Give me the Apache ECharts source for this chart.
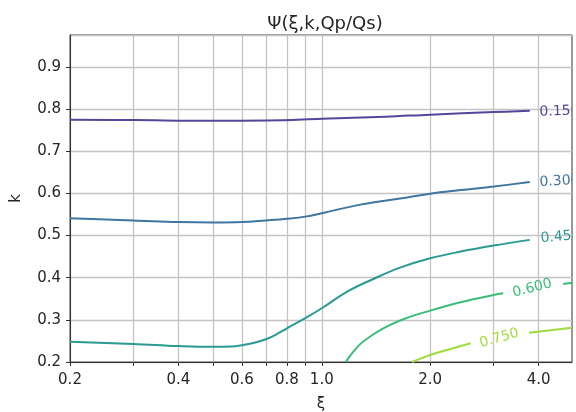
<!DOCTYPE html>
<html>
<head>
<meta charset="utf-8">
<script src="https://cdn.jsdelivr.net/npm/echarts@6/dist/echarts.min.js"></script>
<style>
html,body{margin:0;padding:0;background:#fff;}
#chart{width:576px;height:412px;}
</style>
</head>
<body>
<div id="chart"></div>
<script>
// ---- data ----
const titleText = 'Ψ(ξ,k,Qp/Qs)';
const xName = 'ξ';
const yName = 'k';
const xLabelTicks = [0.2, 0.4, 0.6, 0.8, 1.0, 2.0, 4.0];
const xGridTicks = [0.2, 0.3, 0.4, 0.5, 0.6, 0.7, 0.8, 0.9, 1.0, 2.0, 3.0, 4.0];

const xi15 = [0.2, 0.3, 0.5, 0.7, 1.0, 1.5, 2.0, 3.0, 3.78];
const k15  = [0.775, 0.774, 0.7725, 0.773, 0.777, 0.782, 0.787, 0.793, 0.796];

const xi30 = [0.2, 0.3, 0.4, 0.5, 0.6, 0.7, 0.8, 0.9, 1.0, 1.28, 1.65, 2.0, 2.43, 3.0, 3.78];
const k30  = [0.541, 0.536, 0.532, 0.531, 0.532, 0.536, 0.540, 0.545, 0.553, 0.5735, 0.588, 0.5995, 0.608, 0.6164, 0.627];

const xi45 = [0.2, 0.3, 0.4, 0.5, 0.56, 0.6, 0.65, 0.7, 0.75, 0.8, 0.9, 1.0, 1.17, 1.39, 1.65, 2.0, 2.43, 3.0, 3.78];
const k45  = [0.248, 0.243, 0.238, 0.236, 0.2365, 0.2395, 0.2455, 0.254, 0.266, 0.280, 0.304, 0.3275, 0.366, 0.397, 0.424, 0.446, 0.462, 0.4763, 0.4898];

const xi60a = [1.166, 1.19, 1.224, 1.28, 1.36, 1.5, 1.69, 2.0, 2.43, 3.0, 3.19];
const k60a  = [0.2, 0.211, 0.2245, 0.243, 0.260, 0.282, 0.302, 0.322, 0.342, 0.359, 0.363];
const xi60b = [4.68, 4.95];
const k60b  = [0.385, 0.388];

const xi75a = [1.78, 2.0, 2.28, 2.59];
const k75a  = [0.2, 0.2166, 0.231, 0.2444];
const xi75b = [3.76, 4.95];
const k75b  = [0.2696, 0.2815];

const labelXi   = [4.57, 4.57, 4.6, 3.84, 3.11];
const labelK    = [0.7945, 0.629, 0.497, 0.375, 0.2563];
const labelText = ['0.150', '0.300', '0.450', '0.600', '0.750'];

// ---- styles ----
const levelColors = ['#54479a', '#3f76a0', '#2a9a93', '#3bbd7a', '#9fdc3c'];
const labelRotate = [1.5, 3, 5, 14, 16];
const FONT = 'DejaVu Sans';

function zip(xs, ys) { return xs.map((x, i) => [x, ys[i]]); }

function lineSeries(xs, ys, color) {
  return {
    type: 'line', data: zip(xs, ys), smooth: 0.4,
    showSymbol: false, symbol: 'none',
    lineStyle: { color: color, width: 2 }, silent: true, animation: false, clip: true, z: 3
  };
}

const chart = echarts.init(document.getElementById('chart'), null, { renderer: 'canvas' });
chart.setOption({
  animation: false,
  backgroundColor: '#ffffff',
  title: {
    text: titleText, left: 320, top: 10, textAlign: 'center',
    textStyle: { fontFamily: FONT, fontSize: 18, fontWeight: 'normal', color: '#262626' }
  },
  grid: {
    left: 70, right: 4, top: 35, bottom: 50, show: true,
    containLabel: false, outerBoundsMode: 'none',
    borderColor: '#333', borderWidth: 1, backgroundColor: 'transparent'
  },
  xAxis: {
    type: 'log', logBase: 10, min: 0.2, max: 4.95,
    name: xName, nameLocation: 'middle', nameGap: 35,
    nameTextStyle: { fontFamily: FONT, fontSize: 15, color: '#262626' },
    axisLine: { show: true, onZero: false, lineStyle: { color: '#333', width: 1 } },
    axisTick: { show: true, length: 4, customValues: xGridTicks, lineStyle: { color: '#333' } },
    axisLabel: {
      customValues: xLabelTicks, margin: 11,
      fontFamily: FONT, fontSize: 15, color: '#262626',
      formatter: v => Number(v).toFixed(1)
    },
    splitLine: { show: true, lineStyle: { color: '#c4c4c4', width: 1.3 } },
    minorTick: { show: false }, minorSplitLine: { show: false }
  },
  yAxis: {
    type: 'value', min: 0.2, max: 0.976, interval: 0.1,
    name: yName, nameLocation: 'middle', nameGap: 46, nameRotate: 90,
    nameTextStyle: { fontFamily: FONT, fontSize: 15, color: '#262626' },
    axisLine: { show: true, lineStyle: { color: '#333', width: 1 } },
    axisTick: { show: true, length: 4, lineStyle: { color: '#333' } },
    axisLabel: {
      margin: 9, fontFamily: FONT, fontSize: 15, color: '#262626',
      showMaxLabel: false, formatter: v => Number(v).toFixed(1)
    },
    splitLine: { show: true, lineStyle: { color: '#c4c4c4', width: 1.3 } }
  },
  series: [
    lineSeries(xi15, k15, levelColors[0]),
    lineSeries(xi30, k30, levelColors[1]),
    lineSeries(xi45, k45, levelColors[2]),
    lineSeries(xi60a, k60a, levelColors[3]),
    lineSeries(xi60b, k60b, levelColors[3]),
    lineSeries(xi75a, k75a, levelColors[4]),
    lineSeries(xi75b, k75b, levelColors[4]),
    {
      type: 'custom', clip: true, silent: true, z: 4,
      data: zip(labelXi, labelK),
      renderItem: function (params, api) {
        const i = params.dataIndex;
        const p = api.coord([api.value(0), api.value(1)]);
        return {
          type: 'text', x: p[0], y: p[1],
          rotation: labelRotate[i] * Math.PI / 180,
          style: {
            text: labelText[i], fill: levelColors[i],
            font: '14px "' + FONT + '"', align: 'center', verticalAlign: 'middle'
          }
        };
      }
    }
  ]
});
</script>
</body>
</html>
